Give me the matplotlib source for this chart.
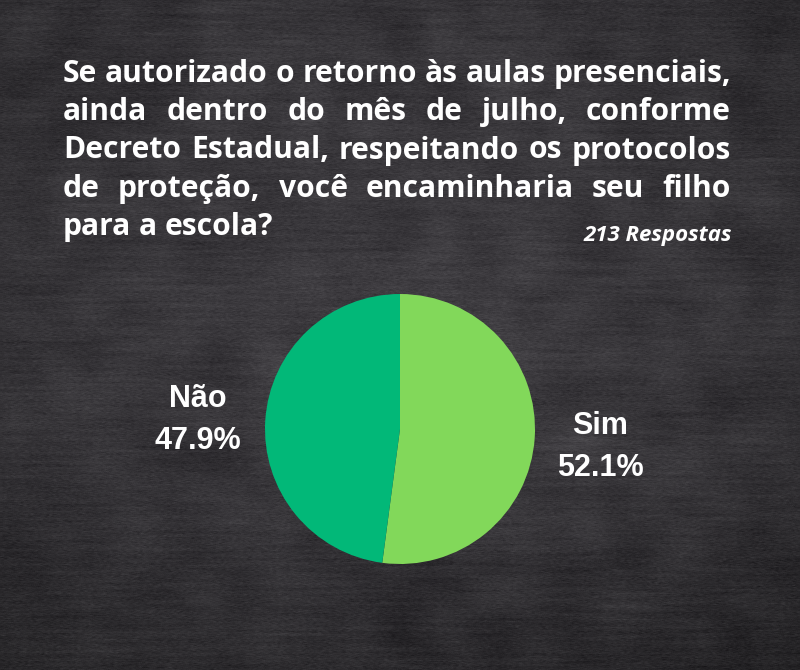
import numpy as np
import matplotlib
matplotlib.use("Agg")
import matplotlib.pyplot as plt

# Survey answers
labels = ["Sim", "Não"]
shares = [52.1, 47.9]
colors = ["#82d85a", "#02b878"]

title_lines = [
    "Se autorizado o retorno às aulas presenciais,",
    "ainda dentro do mês de julho, conforme",
    "Decreto Estadual, respeitando os protocolos",
    "de proteção, você encaminharia seu filho",
    "para a escola?",
]
responses_note = "213 Respostas"

W, H = 800, 670
fig = plt.figure(figsize=(W / 100, H / 100), dpi=100)
ax = fig.add_axes([0, 0, 1, 1])
ax.set_xlim(0, W)
ax.set_ylim(0, H)
ax.set_aspect("equal")
ax.axis("off")


def py(y):
    """Convert a top-down pixel row into the axis' bottom-up coordinate."""
    return H - y


def smooth(a, n, axis):
    k = np.ones(n) / n
    return np.apply_along_axis(lambda v: np.convolve(v, k, mode="same"), axis, a)


# Chalkboard backdrop: dark grey with a soft vignette, faint streaks and grain
yy, xx = np.mgrid[0:H, 0:W]
r = np.sqrt(((xx - 380) / 560.0) ** 2 + ((yy - 280) / 520.0) ** 2)
shade = 1.0 - 0.30 * np.clip(r, 0, 1.4) ** 2
shade -= 0.10 * np.clip((yy - 480) / 190.0, 0, 1)
rng = np.random.default_rng(7)
grain = smooth(rng.normal(0, 1, (H, W)), 3, 1)
streak = smooth(smooth(rng.normal(0, 1, (H, W)), 61, 1), 3, 0)
streak /= streak.std()
blotch = np.kron(rng.normal(0, 1, (H // 25 + 2, W // 25 + 2)), np.ones((25, 25)))[:H, :W]
for _ in range(2):
    blotch = smooth(smooth(blotch, 31, 1), 31, 0)
blotch /= blotch.std()
base = np.array([60, 58, 62]) / 255.0
img = base[None, None, :] * shade[:, :, None]
img += (0.022 * grain + 0.008 * streak + 0.012 * blotch)[:, :, None]
img = np.clip(img, 0, 1)
ax.imshow(img, extent=(0, W, 0, H), origin="upper", zorder=0, interpolation="bilinear")

# Pie chart
ax.pie(shares, colors=colors, startangle=90, counterclock=False,
       center=(400, py(429)), radius=135,
       wedgeprops=dict(linewidth=0), frame=True)
ax.set_xlim(0, W)
ax.set_ylim(0, H)
ax.axis("off")

label_font = dict(family="Liberation Sans", fontweight="bold", fontsize=22,
                  color="white", ha="center", va="baseline")
ax.text(198, py(407), labels[1], **label_font)
ax.text(198, py(449), f"{shares[1]:.1f}%", **label_font)
ax.text(600, py(434), labels[0], **label_font)
ax.text(600, py(476), f"{shares[0]:.1f}%", **label_font)

# Justified question text
renderer = fig.canvas.get_renderer()
left, right = 63, 731
baselines = [82, 120, 158.5, 197, 235]
title_font = dict(family="Open Sans", fontweight="bold", color="white", va="baseline", ha="left")

# size the type so the first line fills the column with ordinary spacing
probe = ax.text(0, 0, title_lines[0], fontsize=20, **title_font)
size = 20 * (right - left) / probe.get_window_extent(renderer).width
probe.remove()
title_font["fontsize"] = size

space_probe = ax.text(0, 0, "a a", **title_font)
a_probe = ax.text(0, 0, "aa", **title_font)
space_w = space_probe.get_window_extent(renderer).width - a_probe.get_window_extent(renderer).width
space_probe.remove()
a_probe.remove()

for i, (line, yb) in enumerate(zip(title_lines, baselines)):
    words = line.split()
    texts = [ax.text(0, py(yb), w, **title_font) for w in words]
    widths = [t.get_window_extent(renderer).width for t in texts]
    last = i == len(title_lines) - 1
    if last or len(words) == 1:
        gap = space_w
    else:
        gap = (right - left - sum(widths)) / (len(words) - 1)
    x = left
    for t, w in zip(texts, widths):
        t.set_x(x)
        x += w + gap

ax.text(732, py(240.5), responses_note, family="Open Sans", fontweight="bold",
        fontstyle="italic", fontsize=16, color="white", ha="right", va="baseline")

fig.savefig("out.png", dpi=100)
